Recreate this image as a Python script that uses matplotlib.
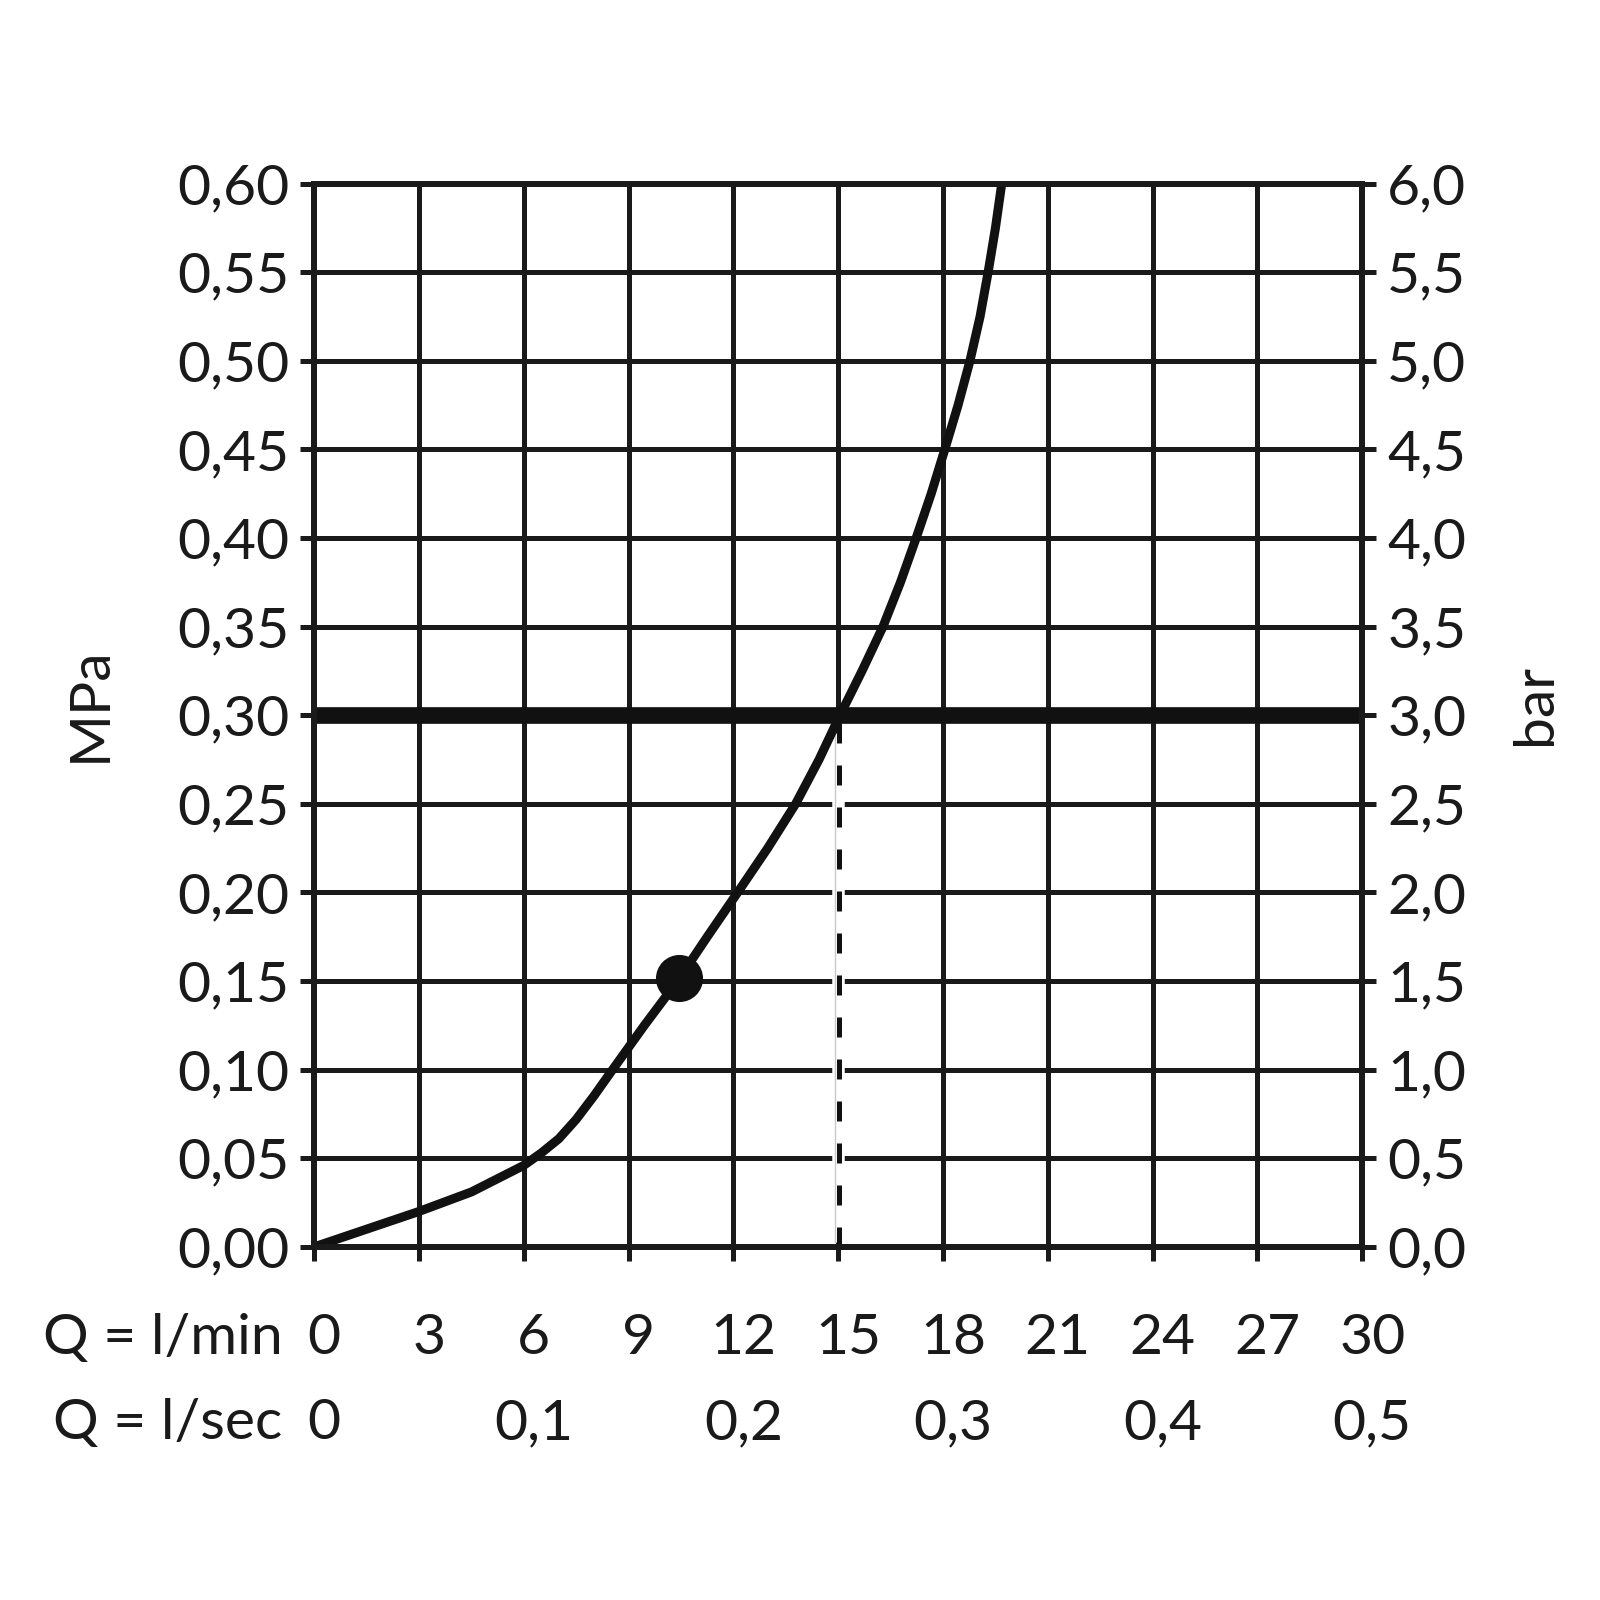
import matplotlib
matplotlib.use("Agg")
import matplotlib.pyplot as plt
import matplotlib.transforms as mtransforms

plt.rcParams['font.family'] = ['Lato', 'DejaVu Sans']

# ---- data ----
flow_lmin = [0, 1.5, 3, 4.5, 6, 6.5, 7, 7.5, 8, 8.54, 9.45, 10.4, 11.25, 12.12, 12.98, 13.78, 14.45, 15.05,
             15.68, 16.28, 16.78, 17.23, 17.66, 18.05, 18.43, 18.77, 19.06, 19.29, 19.5, 19.68]
pressure_mpa = [0, 0.010, 0.020, 0.031, 0.046, 0.053, 0.061, 0.072, 0.085, 0.100, 0.125, 0.150, 0.175, 0.200,
                0.225, 0.250, 0.275, 0.300, 0.325, 0.350, 0.375, 0.400, 0.425, 0.450, 0.475, 0.500, 0.525,
                0.550, 0.575, 0.600]
dot_flow = [10.45]
dot_pressure = [0.152]
ref_flow = 15
ref_pressure = 0.30

xticks_lmin = [0, 3, 6, 9, 12, 15, 18, 21, 24, 27, 30]
xticklabels_lmin = ["0", "3", "6", "9", "12", "15", "18", "21", "24", "27", "30"]
xticks_lsec_pos = [0, 6, 12, 18, 24, 30]
xticklabels_lsec = ["0", "0,1", "0,2", "0,3", "0,4", "0,5"]
yticks_mpa = [0, 0.05, 0.10, 0.15, 0.20, 0.25, 0.30, 0.35, 0.40, 0.45, 0.50, 0.55, 0.60]
yticklabels_mpa = ["0,00", "0,05", "0,10", "0,15", "0,20", "0,25", "0,30", "0,35", "0,40", "0,45", "0,50", "0,55", "0,60"]
yticks_bar = [0, 0.5, 1.0, 1.5, 2.0, 2.5, 3.0, 3.5, 4.0, 4.5, 5.0, 5.5, 6.0]
yticklabels_bar = ["0,0", "0,5", "1,0", "1,5", "2,0", "2,5", "3,0", "3,5", "4,0", "4,5", "5,0", "5,5", "6,0"]

FS = 41
INK = '#1a1a1a'
fig = plt.figure(figsize=(16, 16), dpi=100)
ax = fig.add_axes([0.1964, 0.2207, 0.655, 0.6645])
ax.set_xlim(0, 30)
ax.set_ylim(0, 0.60)

ax.set_xticks(xticks_lmin)
ax.set_yticks(yticks_mpa)
ax.set_yticklabels(yticklabels_mpa)
ax.grid(True, color=INK, linewidth=3.6)
ax.set_axisbelow(True)
for s in ax.spines.values():
    s.set_linewidth(4.2)
    s.set_color(INK)
ax.tick_params(axis='both', direction='out', length=10, width=3.6, color=INK,
               labelsize=FS, labelcolor=INK)
ax.tick_params(axis='x', labelbottom=False)
ax.tick_params(axis='y', pad=8)

# right axis in bar
ax2 = ax.twinx()
ax2.set_ylim(0, 6.0)
ax2.set_yticks(yticks_bar)
ax2.set_yticklabels(yticklabels_bar)
ax2.tick_params(axis='y', direction='out', length=10, width=3.6, color=INK,
                labelsize=FS, labelcolor=INK, pad=8)
for s in ax2.spines.values():
    s.set_linewidth(4.2)
    s.set_color(INK)

# reference horizontal line
ax.axhline(ref_pressure, color='#111111', linewidth=12, zorder=3)
# dashed vertical: white gap over the grid line, thin grey edge, black dashes
ax.plot([ref_flow, ref_flow], [0.003, ref_pressure - 0.01], color='white', linewidth=9, zorder=2.6,
        solid_capstyle='butt')
ax.plot([ref_flow - 0.1, ref_flow - 0.1], [0.003, ref_pressure], color='#c8c8c8', linewidth=1.0, zorder=2.7)
ax.plot([ref_flow + 0.03, ref_flow + 0.03], [0.0, ref_pressure], color='#111111', linewidth=3.6,
        dashes=(4, 4.4), dash_capstyle='butt', zorder=2.8)

# curve
ax.plot(flow_lmin, pressure_mpa, color='#111111', linewidth=6.5, solid_capstyle='round',
        solid_joinstyle='round', zorder=4, clip_on=True)
ax.scatter(dot_flow, dot_pressure, s=1150, color='#111111', zorder=5, linewidths=0)

# bottom label rows (slightly offset to the right, as in the reference)
offset = mtransforms.ScaledTranslation(10 / 100, 0, fig.dpi_scale_trans)
trans = mtransforms.blended_transform_factory(ax.transData, fig.transFigure) + offset
for xp, lab in zip(xticks_lmin, xticklabels_lmin):
    ax.text(xp, 1 - 1312 / 1568, lab, transform=trans, ha='center', va='center', fontsize=FS, color=INK)
for xp, lab in zip(xticks_lsec_pos, xticklabels_lsec):
    ax.text(xp, 1 - 1395 / 1568, lab, transform=trans, ha='center', va='center', fontsize=FS, color=INK)
fig.text(277 / 1568, 1 - 1312 / 1568, "Q = l/min", ha='right', va='center', fontsize=FS, color=INK)
fig.text(277 / 1568, 1 - 1395 / 1568, "Q = l/sec", ha='right', va='center', fontsize=FS, color=INK)

fig.text(88 / 1568, 1 - 690 / 1568, "MPa", rotation=90, ha='center', va='center', fontsize=FS, color=INK)
fig.text(1505 / 1568, 1 - 690 / 1568, "bar", rotation=90, ha='center', va='center', fontsize=FS, color=INK)

fig.savefig("out.png", dpi=100, facecolor='white')
